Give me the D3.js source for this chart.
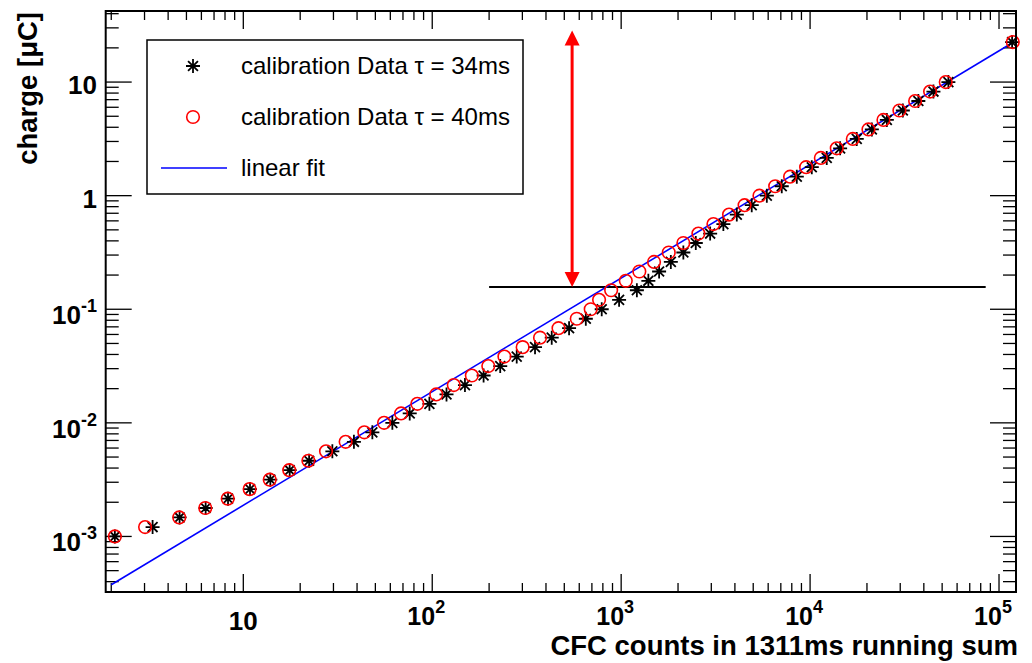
<!DOCTYPE html>
<html>
<head>
<meta charset="utf-8">
<script src="https://cdn.jsdelivr.net/npm/d3@7"></script>
<style>
  html, body { margin: 0; padding: 0; background: #fff; }
  svg { display: block; font-family: "Liberation Sans", Arial, Helvetica, sans-serif; }
</style>
</head>
<body>
<svg id="chart" width="1032" height="663"></svg>
<script>
// ---- data ----
const charge = [0.001, 0.00121, 0.00147, 0.00178, 0.00215, 0.00261, 0.00316, 0.00383, 0.00464, 0.00562,
  0.00681, 0.00825, 0.01, 0.0121, 0.0147, 0.0178, 0.0215, 0.0261, 0.0316, 0.0383,
  0.0464, 0.0562, 0.0681, 0.0825, 0.1, 0.121, 0.147, 0.178, 0.215, 0.261,
  0.316, 0.383, 0.464, 0.562, 0.681, 0.825, 1.0, 1.21, 1.47, 1.78,
  2.15, 2.61, 3.16, 3.83, 4.64, 5.62, 6.81, 8.25, 10.0, 22.5];
const countsTau40 = [2.09, 3.02, 4.58, 6.29, 8.27, 10.8, 13.8, 17.5, 22.1, 27.4,
  34.8, 43.7, 55.6, 68.4, 83.4, 105, 130, 162, 198, 241,
  301, 372, 466, 582, 690, 764, 885, 1058, 1248, 1493,
  1786, 2134, 2563, 3078, 3724, 4500, 5395, 6535, 7834, 9527,
  11400, 13840, 16830, 20370, 24450, 29700, 35970, 43170, 52240, 118300];
const countsTau34 = [2.09, 3.31, 4.60, 6.32, 8.30, 10.85, 13.9, 17.6, 22.3, 29.6,
  38.5, 48.2, 61.5, 76.0, 96.6, 119, 149, 187, 229, 280,
  350, 429, 530, 650, 789, 975, 1211, 1393, 1588, 1832,
  2134, 2483, 2958, 3475, 4093, 4910, 5902, 7080, 8505, 10210,
  12250, 14420, 17660, 21230, 25480, 30970, 37410, 44970, 53950, 117300];
const fitX = [2.0, 119000];
const fitY = [0.000376, 22.4];
const thresholdX = [200, 85000];
const thresholdY = 0.157;
const arrowX = 550;
const arrowY = [0.157, 28.5];
const xTickLabels = [[10, "10", null], [100, "10", "2"], [1000, "10", "3"], [10000, "10", "4"], [100000, "10", "5"]];
const yTickLabels = [[10, "10", null], [1, "1", null], [0.1, "10", "-1"], [0.01, "10", "-2"], [0.001, "10", "-3"]];
const legendLabels = ["calibration Data \u03c4 = 34ms", "calibration Data \u03c4 = 40ms", "linear fit"];
const xTitle = "CFC counts in 1311ms running sum";
const yTitle = "charge [\u03bcC]";

// ---- layout ----
const L = 105.7, R = 1016, T = 11, B = 592;
const svg = d3.select("#chart");
const x = d3.scaleLog().domain([1.869, 1.23e5]).range([L, R]);
const y = d3.scaleLog().domain([3.243e-4, 42.23]).range([B, T]);

// ticks
function logTicks(scale) {
  const [a, b] = scale.domain();
  const out = [];
  for (let e = Math.floor(Math.log10(a)) - 1; e <= Math.ceil(Math.log10(b)); e++) {
    for (let m = 1; m <= 9; m++) {
      const v = m * Math.pow(10, e);
      if (v >= a * 0.999 && v <= b * 1.001) out.push({ v, major: m === 1 });
    }
  }
  return out;
}
const gt = svg.append("g").attr("stroke", "#000").attr("stroke-width", 1.3);
logTicks(x).forEach(t => {
  const px = x(t.v), len = t.major ? 18 : 9;
  gt.append("line").attr("x1", px).attr("x2", px).attr("y1", B).attr("y2", B - len);
  gt.append("line").attr("x1", px).attr("x2", px).attr("y1", T).attr("y2", T + len);
});
logTicks(y).forEach(t => {
  const py = y(t.v), len = t.major ? 26 : 13;
  gt.append("line").attr("x1", L).attr("x2", L + len).attr("y1", py).attr("y2", py);
  gt.append("line").attr("x1", R).attr("x2", R - len).attr("y1", py).attr("y2", py);
});

// tick labels
const gl = svg.append("g").attr("font-weight", "bold").attr("fill", "#000");
xTickLabels.forEach(([v, base, exp]) => {
  const px = x(v);
  if (!exp) {
    gl.append("text").attr("x", px).attr("y", 630).attr("text-anchor", "middle")
      .attr("font-size", 26).text(base);
  } else {
    const t = gl.append("text").attr("x", px - 6).attr("y", 625).attr("text-anchor", "middle").attr("font-size", 25);
    t.append("tspan").text(base);
    t.append("tspan").attr("font-size", 18).attr("dy", -12).text(exp);
  }
});
yTickLabels.forEach(([v, base, exp]) => {
  const py = y(v);
  if (!exp) {
    gl.append("text").attr("x", 97).attr("y", py + 12).attr("text-anchor", "end")
      .attr("font-size", 26).text(base);
  } else {
    const t = gl.append("text").attr("x", 97).attr("y", py + 15).attr("text-anchor", "end").attr("font-size", 26);
    t.append("tspan").text(base);
    t.append("tspan").attr("font-size", 18).attr("dy", -12).text(exp);
  }
});

// axis titles
svg.append("text").attr("transform", `translate(37,${T + 1}) rotate(-90)`).attr("text-anchor", "end")
  .attr("font-weight", "bold").attr("font-size", 27.5).text(yTitle);
svg.append("text").attr("x", R + 2).attr("y", 655).attr("text-anchor", "end")
  .attr("font-weight", "bold").attr("font-size", 27.5).text(xTitle);

// clip
svg.append("clipPath").attr("id", "plot").append("rect").attr("x", L).attr("y", T).attr("width", R - L).attr("height", B - T);
const gp = svg.append("g").attr("clip-path", "url(#plot)");

// threshold line
gp.append("line").attr("x1", x(thresholdX[0])).attr("x2", x(thresholdX[1]))
  .attr("y1", y(thresholdY)).attr("y2", y(thresholdY)).attr("stroke", "#000").attr("stroke-width", 2);

// fit line
gp.append("path").attr("d", d3.line().x(d => x(d[0])).y(d => y(d[1]))(fitX.map((v, i) => [v, fitY[i]])))
  .attr("stroke", "#0000ff").attr("stroke-width", 1.6).attr("fill", "none");

// arrow
const ax = x(arrowX), ay0 = y(arrowY[0]), ay1 = y(arrowY[1]);
const head = 15, hw = 7.5;
gp.append("line").attr("x1", ax).attr("x2", ax).attr("y1", ay0 - head + 2).attr("y2", ay1 + head - 2)
  .attr("stroke", "#ff0000").attr("stroke-width", 3);
gp.append("path").attr("d", `M${ax},${ay0} L${ax - hw},${ay0 - head} L${ax + hw},${ay0 - head} Z`).attr("fill", "#ff0000");
gp.append("path").attr("d", `M${ax},${ay1} L${ax - hw},${ay1 + head} L${ax + hw},${ay1 + head} Z`).attr("fill", "#ff0000");

// markers
const sr = 7, sd = sr * 0.7071;
const starPath = `M${-sr},0L${sr},0M0,${-sr}L0,${sr}M${-sd},${-sd}L${sd},${sd}M${-sd},${sd}L${sd},${-sd}`;
function drawStar(g, cx, cy) {
  g.append("path").attr("transform", `translate(${cx},${cy})`).attr("d", starPath)
    .attr("stroke", "#000").attr("stroke-width", 1.8).attr("fill", "none");
}
function drawCircle(g, cx, cy) {
  g.append("circle").attr("cx", cx).attr("cy", cy).attr("r", 6.3)
    .attr("stroke", "#ff0000").attr("stroke-width", 1.6).attr("fill", "none");
}
const gm = svg.append("g");
countsTau34.forEach((v, i) => drawStar(gm, x(v), y(charge[i])));
countsTau40.forEach((v, i) => drawCircle(gm, x(v), y(charge[i])));

// frame
svg.append("rect").attr("x", L).attr("y", T).attr("width", R - L).attr("height", B - T)
  .attr("fill", "none").attr("stroke", "#000").attr("stroke-width", 2);

// legend
const lg = svg.append("g");
lg.append("rect").attr("x", 147).attr("y", 40).attr("width", 376).attr("height", 154)
  .attr("fill", "#fff").attr("stroke", "#000").attr("stroke-width", 1.5);
const ly = [66, 117, 168];
drawStar(lg, 193, ly[0]);
drawCircle(lg, 193, ly[1]);
lg.append("line").attr("x1", 161).attr("x2", 227).attr("y1", ly[2]).attr("y2", ly[2])
  .attr("stroke", "#0000ff").attr("stroke-width", 1.6);
legendLabels.forEach((s, i) => {
  lg.append("text").attr("x", 241).attr("y", ly[i] + 8).attr("font-size", 24).attr("fill", "#000").text(s);
});
</script>
</body>
</html>
